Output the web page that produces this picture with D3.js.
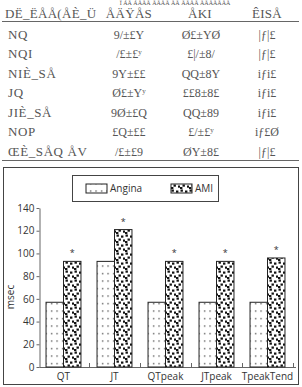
<!DOCTYPE html>
<html>
<head>
<meta charset="utf-8">
<script src="https://cdn.jsdelivr.net/npm/d3@7"></script>
<style>
  body { margin: 0; background: #fff; }
  svg { display: block; }
</style>
</head>
<body>
<script>
// table (text as it appears in the picture)
var tableHead = ["DË_ËÅÅ(ÅÈ_Ü", "ÅÄŸÅS", "ÅKI", "ÊISÅ"];
var rowLabels = ["NQ", "NQI", "NIÈ_SÅ", "JQ", "JIÈ_SÅ", "NOP", "ŒÈ_SÅQ ÅV"];
var col1 = ["9/±£Y", "/£±£ʸ", "9Y±££", "Ø£±Yʸ", "9Ø±£Q", "£Q±££", "/£±£9"];
var col2 = ["Ø£±YØ", "£|/±8/", "QQ±8Y", "££8±8£", "QQ±89", "£/±£ʸ", "ØY±8£"];
var col3 = ["|ƒ|£", "|ƒ|£", "iƒi£", "iƒi£", "iƒi£", "iƒ£Ø", "|ƒ|£"];

// chart data
var categories = ["QT", "JT", "QTpeak", "JTpeak", "TpeakTend"];
var seriesNames = ["Angina", "AMI"];
var angina = [57, 93, 57, 57, 57];
var ami = [93, 121, 93, 93, 96];
var yTicks = [0, 20, 40, 60, 80, 100, 120, 140];

var W = 302, H = 387;
var svg = d3.select("body").append("svg")
    .attr("width", W)
    .attr("height", H);

var defs = svg.append("defs");

// sparse dots for Angina
var p1 = defs.append("pattern")
    .attr("id", "dots")
    .attr("patternUnits", "userSpaceOnUse")
    .attr("width", 5.5).attr("height", 7.5);
p1.append("rect").attr("width", 5.5).attr("height", 7.5).attr("fill", "#fff");
p1.append("rect").attr("x", 2).attr("y", 3).attr("width", 1.2).attr("height", 1.2).attr("fill", "#222");

// dense squares for AMI
var p2 = defs.append("pattern")
    .attr("id", "squares")
    .attr("patternUnits", "userSpaceOnUse")
    .attr("width", 9).attr("height", 9);
p2.append("rect").attr("width", 9).attr("height", 9).attr("fill", "#fff");
[[0.5, 0.5], [5, 1.5], [2.5, 4.5], [7, 5.5], [0, 7]].forEach(function(s) {
  p2.append("rect").attr("x", s[0]).attr("y", s[1])
    .attr("width", 2.4).attr("height", 2.2).attr("fill", "#111");
});

// ---- table ----
var tfont = "'Times New Roman', 'Liberation Serif', serif";
var tcol = "#555";
var rowY = d3.scaleLinear().domain([0, 1]).range([38.5, 58]);

svg.append("text")
    .attr("x", 175).attr("y", 5)
    .attr("text-anchor", "middle")
    .style("font-family", tfont).style("font-size", "6px")
    .attr("fill", tcol)
    .text("Ï ÃÅ ÃÅÅÅ ÅÅÅÅ ÅÅ ÅÅÅÅ ÅÅÅÅÅÅÅ");

var headX = [5, 129, 200, 267];
var headAnchor = ["start", "middle", "middle", "middle"];
svg.selectAll(".thead")
    .data(tableHead)
  .enter().append("text")
    .attr("class", "thead")
    .attr("x", function(d, i) { return headX[i]; })
    .attr("y", 18)
    .attr("text-anchor", function(d, i) { return headAnchor[i]; })
    .style("font-family", tfont).style("font-size", "13px")
    .style("font-weight", "normal").style("letter-spacing", "0.3px")
    .attr("fill", tcol)
    .text(function(d) { return d; });

svg.append("line").attr("x1", 2).attr("x2", 299).attr("y1", 21.5).attr("y2", 21.5)
    .attr("stroke", "#666").attr("stroke-width", 1);
svg.append("line").attr("x1", 2).attr("x2", 299).attr("y1", 160.5).attr("y2", 160.5)
    .attr("stroke", "#666").attr("stroke-width", 1);

var rows = svg.selectAll(".trow")
    .data(rowLabels)
  .enter().append("g")
    .attr("class", "trow")
    .attr("transform", function(d, i) { return "translate(0," + rowY(i) + ")"; });

rows.append("text")
    .attr("x", 8)
    .style("font-family", tfont).style("font-size", "13px")
    .style("font-weight", "normal").style("letter-spacing", "0.6px")
    .attr("fill", tcol)
    .text(function(d) { return d; });
rows.append("text")
    .attr("x", 129).attr("text-anchor", "middle")
    .style("font-family", tfont).style("font-size", "12px")
    .attr("fill", tcol)
    .text(function(d, i) { return col1[i]; });
rows.append("text")
    .attr("x", 201).attr("text-anchor", "middle")
    .style("font-family", tfont).style("font-size", "12px")
    .attr("fill", tcol)
    .text(function(d, i) { return col2[i]; });
rows.append("text")
    .attr("x", 267).attr("text-anchor", "middle")
    .style("font-family", tfont).style("font-size", "12px")
    .attr("fill", tcol)
    .text(function(d, i) { return col3[i]; });

// ---- chart ----
var cfont = "'Open Sans', sans-serif";

// outer frame
svg.append("rect")
    .attr("x", 3.5).attr("y", 167.5).attr("width", 295).attr("height", 217)
    .attr("fill", "none").attr("stroke", "#444").attr("stroke-width", 1);

var x0 = d3.scaleBand().domain(categories).range([38, 293]);
var x1 = d3.scaleBand().domain(seriesNames).range([0, x0.bandwidth()])
    .paddingInner(0).paddingOuter(0.46);
var y = d3.scaleLinear().domain([0, 140]).range([367, 208]);

// y axis
var yAxis = svg.append("g")
    .attr("transform", "translate(39.5,0)")
    .call(d3.axisLeft(y).tickValues(yTicks).tickSize(3).tickSizeOuter(0));
yAxis.select(".domain").attr("stroke", "#666");
yAxis.selectAll(".tick line").attr("stroke", "#666");
yAxis.selectAll(".tick text")
    .attr("x", -5)
    .style("font-family", cfont).style("font-size", "10px")
    .attr("fill", "#333");

svg.append("text")
    .attr("transform", "translate(14,297) rotate(-90)")
    .attr("text-anchor", "middle")
    .style("font-family", cfont).style("font-size", "10px")
    .attr("fill", "#333")
    .text("msec");

// x axis line + group separators
svg.append("line")
    .attr("x1", 39.5).attr("x2", 296).attr("y1", 367.5).attr("y2", 367.5)
    .attr("stroke", "#666");
svg.selectAll(".sep")
    .data(categories)
  .enter().append("line")
    .attr("class", "sep")
    .attr("x1", function(d) { return Math.round(x0(d) + x0.bandwidth()) + 0.5; })
    .attr("x2", function(d) { return Math.round(x0(d) + x0.bandwidth()) + 0.5; })
    .attr("y1", 367).attr("y2", 363)
    .attr("stroke", "#666");

svg.selectAll(".xlab")
    .data(categories)
  .enter().append("text")
    .attr("class", "xlab")
    .attr("x", function(d) { return x0(d) + x0.bandwidth() / 2; })
    .attr("y", 380)
    .attr("text-anchor", "middle")
    .style("font-family", cfont).style("font-size", "10px")
    .attr("fill", "#333")
    .text(function(d) { return d; });

// bars
var groups = svg.selectAll(".grp")
    .data(categories)
  .enter().append("g")
    .attr("class", "grp")
    .attr("transform", function(d) { return "translate(" + x0(d) + ",0)"; });

groups.selectAll("rect")
    .data(function(d, i) {
      return [{s: "Angina", v: angina[i]}, {s: "AMI", v: ami[i]}];
    })
  .enter().append("rect")
    .attr("x", function(d) { return x1(d.s); })
    .attr("y", function(d) { return y(d.v); })
    .attr("width", x1.bandwidth())
    .attr("height", function(d) { return y(0) - y(d.v); })
    .attr("fill", function(d) { return d.s == "Angina" ? "url(#dots)" : "url(#squares)"; })
    .attr("stroke", "#222")
    .attr("stroke-width", 1);

// significance stars
groups.append("text")
    .attr("x", function(d) { return x1("AMI") + x1.bandwidth() / 2; })
    .attr("y", function(d, i) { return y(ami[i]) - 5; })
    .attr("text-anchor", "middle")
    .style("font-family", cfont).style("font-size", "9px")
    .attr("fill", "#333")
    .text("*");

// legend
var leg = svg.append("g");
leg.append("rect")
    .attr("x", 72.5).attr("y", 175.5).attr("width", 146).attr("height", 26)
    .attr("fill", "#fff").attr("stroke", "#444");
var legX = [86, 171];
seriesNames.forEach(function(s, i) {
  leg.append("rect")
      .attr("x", legX[i]).attr("y", 184).attr("width", 21).attr("height", 9)
      .attr("fill", i == 0 ? "url(#dots)" : "url(#squares)")
      .attr("stroke", "#222");
  leg.append("text")
      .attr("x", legX[i] + 24).attr("y", 192)
      .style("font-family", cfont).style("font-size", "10px")
      .attr("fill", "#333")
      .text(s);
});
</script>
</body>
</html>
